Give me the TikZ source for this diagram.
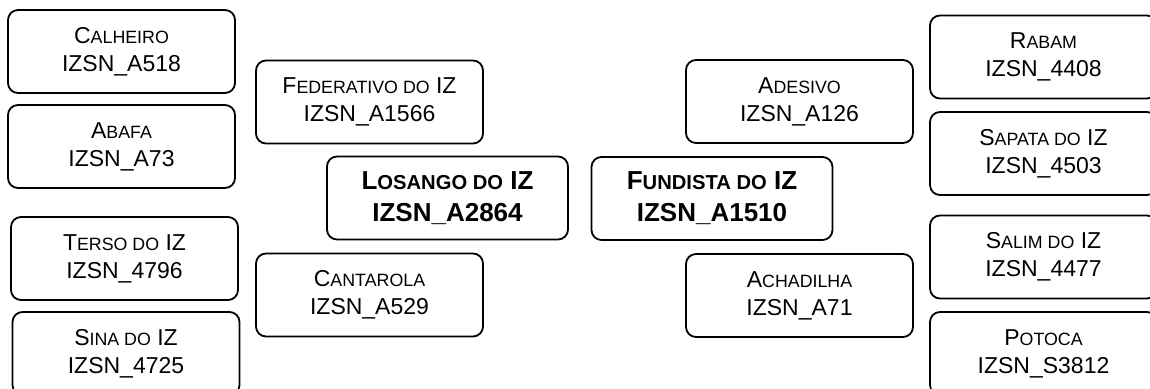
\documentclass[tikz,border=0pt]{standalone}
\usepackage{fontspec}
\setmainfont{Liberation Sans}
\newcommand\smc[1]{{\fontsize{8.9}{14}\selectfont #1}}
\newcommand\bsmc[1]{{\fontsize{10.1}{16}\selectfont #1}}
\tikzset{
  box/.style={draw, line width=0.9pt, rounded corners=5pt, minimum width=113.5pt,
    minimum height=41.5pt, inner sep=0pt, align=center,
    font=\fontsize{11.5}{14}\selectfont},
  mainbox/.style={box, minimum width=120.5pt, font=\fontsize{13}{16}\selectfont\bfseries}
}
\begin{document}
\begin{tikzpicture}[x=0.5pt,y=-0.5pt]
\useasboundingbox (0,0) rectangle (1150,389);
\clip (0,0) rectangle (1150,389);
\node[box] (calheiro) at (121.5,51.5) {C\smc{ALHEIRO}\\IZSN\_A518};
\node[box] (abafa) at (121.5,146.5) {A\smc{BAFA}\\IZSN\_A73};
\node[box] (terso) at (124.5,258.5) {T\smc{ERSO DO} IZ\\IZSN\_4796};
\node[box] (sina) at (126,353.5) {S\smc{INA DO} IZ\\IZSN\_4725};
\node[box] (federativo) at (369.5,102) {F\smc{EDERATIVO DO} IZ\\IZSN\_A1566};
\node[mainbox] (losango) at (447.5,198) {L\bsmc{OSANGO DO} IZ\\IZSN\_A2864};
\node[box] (cantarola) at (369.5,295) {C\smc{ANTAROLA}\\IZSN\_A529};
\node[box] (adesivo) at (799.5,101.5) {A\smc{DESIVO}\\IZSN\_A126};
\node[mainbox] (fundista) at (712,198.5) {F\bsmc{UNDISTA DO} IZ\\IZSN\_A1510};
\node[box] (achadilha) at (799.5,295.5) {A\smc{CHADILHA}\\IZSN\_A71};
\node[box] (rabam) at (1043.5,57) {R\smc{ABAM}\\IZSN\_4408};
\node[box] (sapata) at (1043.5,153.5) {S\smc{APATA DO} IZ\\IZSN\_4503};
\node[box] (salim) at (1043.5,257) {S\smc{ALIM DO} IZ\\IZSN\_4477};
\node[box] (potoca) at (1043.5,353.5) {P\smc{OTOCA}\\IZSN\_S3812};
\end{tikzpicture}
\end{document}
